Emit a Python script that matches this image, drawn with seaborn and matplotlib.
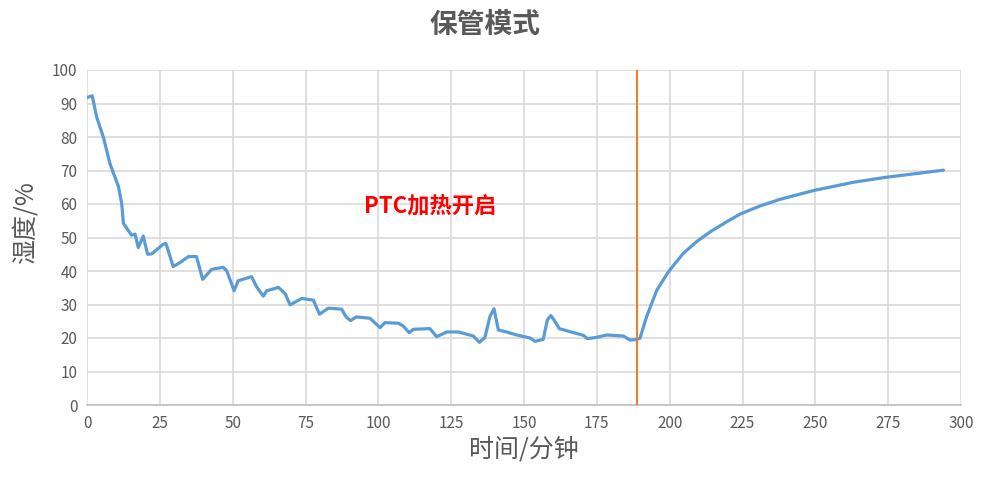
import pandas as pd
import matplotlib
matplotlib.use("Agg")
import matplotlib.pyplot as plt
import seaborn as sns

# humidity (minute, %)
minutes = [0, 1.8, 3.3, 5.6, 7.9, 10.8, 11.9, 12.5, 15.3, 16.5, 17.6, 19.3, 20.8, 22.2,
           26.2, 27.1, 29.6, 31.9, 34.8, 37.6, 39.7, 42.8, 46.8, 48.0, 50.5, 51.9,
           56.5, 58.2, 60.5, 61.7, 65.7, 68.0, 69.7, 73.7, 77.7, 79.8, 82.8, 87.4,
           89.0, 90.5, 92.4, 97.1, 100.6, 102.3, 106.9, 108.5, 110.6, 112.0, 117.7,
           120.0, 123.5, 127.5, 132.6, 134.7, 136.6, 138.3, 139.7, 141.2, 144.0,
           147.5, 152.1, 153.8, 156.6, 158.0, 159.2, 160.3, 162.1, 167.0, 170.4,
           171.8, 175.0, 178.4, 184.1, 186.4, 188.2, 189.8, 192.1, 195.6, 199.6,
           204.7, 209.3, 213.9, 219.6, 224.2, 231.0, 237.9, 249.3, 263.1, 274.5, 294.0]
humidity = [91.8, 92.3, 86.0, 80.0, 72.0, 65.2, 60.2, 54.2, 50.7, 51.0, 47.0, 50.4, 45.0, 45.1,
            48.0, 48.2, 41.3, 42.5, 44.3, 44.3, 37.5, 40.5, 41.1, 40.0, 34.1, 37.1,
            38.3, 35.3, 32.5, 34.1, 35.1, 33.3, 29.9, 31.8, 31.3, 27.1, 28.9, 28.6,
            26.2, 25.2, 26.3, 25.9, 23.1, 24.6, 24.4, 23.6, 21.6, 22.6, 22.8,
            20.4, 21.8, 21.8, 20.6, 18.7, 20.2, 26.4, 28.7, 22.4, 21.8,
            20.9, 20.0, 19.0, 19.6, 25.4, 26.7, 25.4, 22.8, 21.6, 20.8,
            19.8, 20.2, 20.9, 20.6, 19.4, 19.5, 19.9, 26.4, 34.3, 39.8,
            45.3, 48.8, 51.7, 54.7, 57.0, 59.4, 61.4, 64.0, 66.5, 68.0, 70.1]
ptc_on = 188.7
x_ticks = list(range(0, 301, 25))
y_ticks = list(range(0, 101, 10))

df = pd.DataFrame({"t": minutes, "h": humidity})

sns.set_style("white")
plt.rcParams['font.family'] = ['Noto Sans CJK SC', 'DejaVu Sans']
gray = "#595959"

fig = plt.figure(figsize=(9.83, 4.91), dpi=100)
ax = fig.add_axes([87 / 983, 1 - 405 / 491, (961 - 87) / 983, (405 - 70) / 491])

sns.lineplot(data=df, x="t", y="h", ax=ax, color="#5b9bd5", linewidth=2.3)
ax.axvline(ptc_on, color="#ed7d31", linewidth=1.5, zorder=3)

ax.set_xlim(0, 300)
ax.set_ylim(0, 100)
ax.set_xticks(x_ticks)
ax.set_yticks(y_ticks)
ax.grid(True, color="#d9d9d9", linewidth=1.2)
ax.set_axisbelow(True)
for s in ["top", "right", "left"]:
    ax.spines[s].set_visible(False)
ax.spines["bottom"].set_color("#bfbfbf")
ax.spines["bottom"].set_linewidth(1.2)
ax.tick_params(axis="both", length=0, labelsize=11, colors=gray, pad=7)

ax.set_xlabel("时间/分钟", fontsize=18, color=gray, labelpad=4)
ax.set_ylabel("湿度/%", fontsize=18, color=gray, labelpad=8)
ax.yaxis.set_label_coords(-0.056, 0.545)
fig.suptitle("保管模式", x=0.493, y=0.978, fontsize=20, fontweight="bold", color=gray)

ax.text(95, 59.5, "PTC加热开启", color="#ff0000", fontsize=16, fontweight="bold",
        va="center", ha="left")

fig.savefig("out.png", dpi=100)
